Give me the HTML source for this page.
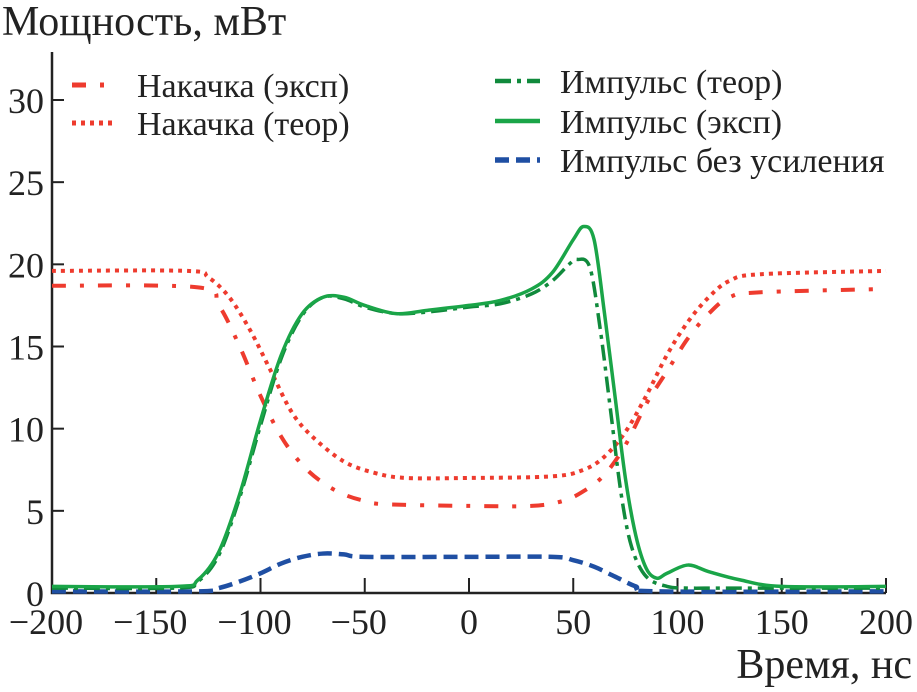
<!DOCTYPE html>
<html><head><meta charset="utf-8"><style>
body{margin:0;background:#fff}
svg{display:block;font-family:"Liberation Serif",serif}
</style></head><body>
<svg width="917" height="692" viewBox="0 0 917 692">
<g id="axes"></g><g id="series"></g><g id="legend"></g>
<text x="2" y="35" font-size="42" fill="#222">Мощность, мВт</text>
<text x="912" y="678" font-size="42" fill="#222" text-anchor="end">Время, нс</text>
</svg>
<script>
const xTicks=[-200,-150,-100,-50,0,50,100,150,200];
const yTicks=[0,5,10,15,20,25,30];
const pumpExpT=[-200,-130,-120,-110,-100,-90,-80,-70,-60,-50,-40,0,30,45,55,65,75,85,95,105,115,125,140,200];
const pumpExpV=[18.7,18.6,17.5,15,12,9.5,7.8,6.7,6,5.6,5.4,5.3,5.3,5.6,6.2,7.2,9,11.5,13.5,15.5,17,18,18.3,18.5];
const pumpThT=[-200,-135,-125,-115,-105,-95,-85,-75,-60,-45,-30,0,40,55,65,75,85,95,105,115,125,140,200];
const pumpThV=[19.6,19.6,19.2,18,16,13.5,11,9.5,8,7.3,7.0,7.0,7.1,7.5,8.3,9.8,12,14.5,16.5,18,19,19.4,19.6];
const pulseExpT=[-200,-140,-130,-120,-110,-100,-90,-80,-70,-60,-50,-35,-20,0,15,30,40,50,55,60,65,70,75,80,85,90,95,105,115,130,150,200];
const pulseExpV=[0.4,0.4,0.8,2.5,6,10.5,14.5,17,18,18,17.5,17,17.2,17.5,17.8,18.5,19.5,21.5,22.3,21.5,17,12,7,3.5,1.5,0.9,1.2,1.7,1.3,0.8,0.4,0.4];
const pulseThT=[-200,-140,-130,-120,-110,-100,-90,-80,-70,-60,-50,-35,-20,0,15,30,40,48,52,58,63,68,73,78,85,95,105,120,150,200];
const pulseThV=[0.3,0.3,0.7,2.3,5.8,10.2,14.3,16.9,18,17.9,17.4,17,17.1,17.4,17.6,18.2,19,20,20.3,19.8,16,11,6,2.8,1,0.4,0.3,0.3,0.3,0.3];
const noGainT=[-200,-130,-120,-110,-100,-90,-80,-70,-60,-50,0,40,50,60,70,80,90,200];
const noGainV=[0.1,0.1,0.3,0.7,1.2,1.8,2.2,2.4,2.35,2.2,2.2,2.2,2.0,1.6,1.0,0.4,0.1,0.1];

const X0=52,X1=886,Y0=593,Y30=100;
const sx=t=>X0+(t+200)/400*(X1-X0);
const sy=v=>Y0-v/30*(Y0-Y30);
const NS="http://www.w3.org/2000/svg";
function mk(tag,attrs,parent){const e=document.createElementNS(NS,tag);for(const k in attrs)e.setAttribute(k,attrs[k]);parent.appendChild(e);return e;}
const axes=document.getElementById('axes');
const ax=mk('path',{d:`M${X0},52 L${X0},${Y0} L${X1},${Y0}`,stroke:'#222','stroke-width':2.5,fill:'none'},axes);


xTicks.forEach(t=>{
  const l=mk('line',{x1:sx(t),x2:sx(t),y1:Y0,y2:Y0-15,stroke:'#222','stroke-width':2},axes);
  
  
  const tx=mk('text',{x:sx(t)-(t<0?6:0),y:Y0+41,'font-size':36,'text-anchor':'middle',fill:'#222'},axes);
  tx.textContent=(t<0?'\u2212'+(-t):String(t));
  
  
});
yTicks.forEach(v=>{
  const l=mk('line',{x1:X0,x2:X0+12,y1:sy(v),y2:sy(v),stroke:'#222','stroke-width':2},axes);
  
  
  const tx=mk('text',{x:X0-8,y:sy(v)+13,'font-size':36,'text-anchor':'end',fill:'#222'},axes);
  tx.textContent=String(v);
  
  
});
function pathD(T,V){
  const p=T.map((t,i)=>[sx(t),sy(V[i])]);
  let d=`M${p[0][0]},${p[0][1]}`;
  for(let i=0;i<p.length-1;i++){
    const a=p[i-1]||p[i],b=p[i],c=p[i+1],e=p[i+2]||c;
    const c1=[b[0]+(c[0]-a[0])/6,b[1]+(c[1]-a[1])/6],c2=[c[0]-(e[0]-b[0])/6,c[1]-(e[1]-b[1])/6];
    d+=` C${c1[0]},${c1[1]} ${c2[0]},${c2[1]} ${c[0]},${c[1]}`;
  }
  return d;
}
const sg=document.getElementById('series');
const styles={
  pumpExp:{stroke:'#ee3b2e',w:4,dash:'14 14 4 14'},
  pumpTh:{stroke:'#ee3b2e',w:4,dash:'4 5'},
  pulseTh:{stroke:'#108a3c',w:3.5,dash:'16 6 4 6'},
  pulseExp:{stroke:'#1aa548',w:3.5,dash:''},
  noGain:{stroke:'#1f4fa3',w:4.5,dash:'14 7'}
};
[['pumpExp',pumpExpT,pumpExpV,'pump-exp-line'],['pumpTh',pumpThT,pumpThV,'pump-theor-line'],['noGain',noGainT,noGainV,'pulse-no-gain-line'],['pulseTh',pulseThT,pulseThV,'pulse-theor-line'],['pulseExp',pulseExpT,pulseExpV,'pulse-exp-line']].forEach(([k,T,V,n])=>{
  const s=styles[k];
  const p=mk('path',{d:pathD(T,V),stroke:s.stroke,'stroke-width':s.w,fill:'none','stroke-dasharray':s.dash,'stroke-linejoin':'round'},sg);
  
  
});
const lg=document.getElementById('legend');
const items=[['pumpExp',72,85,'Накачка (эксп)'],['pumpTh',72,123,'Накачка (теор)'],['pulseTh',495,81,'Импульс (теор)'],['pulseExp',495,121,'Импульс (эксп)'],['noGain',495,160,'Импульс без усиления']];
items.forEach(([k,x,y,txt])=>{
  const s=styles[k];
  const g=mk('g',{},lg);
  
  
  mk('line',{x1:x,x2:x+45,y1:y,y2:y,stroke:s.stroke,'stroke-width':s.w+1,'stroke-dasharray':s.dash},g);
  const t=mk('text',{x:x+65,y:y+12,'font-size':34,fill:'#222'},g);
  t.textContent=txt;
});
</script>
</body></html>
